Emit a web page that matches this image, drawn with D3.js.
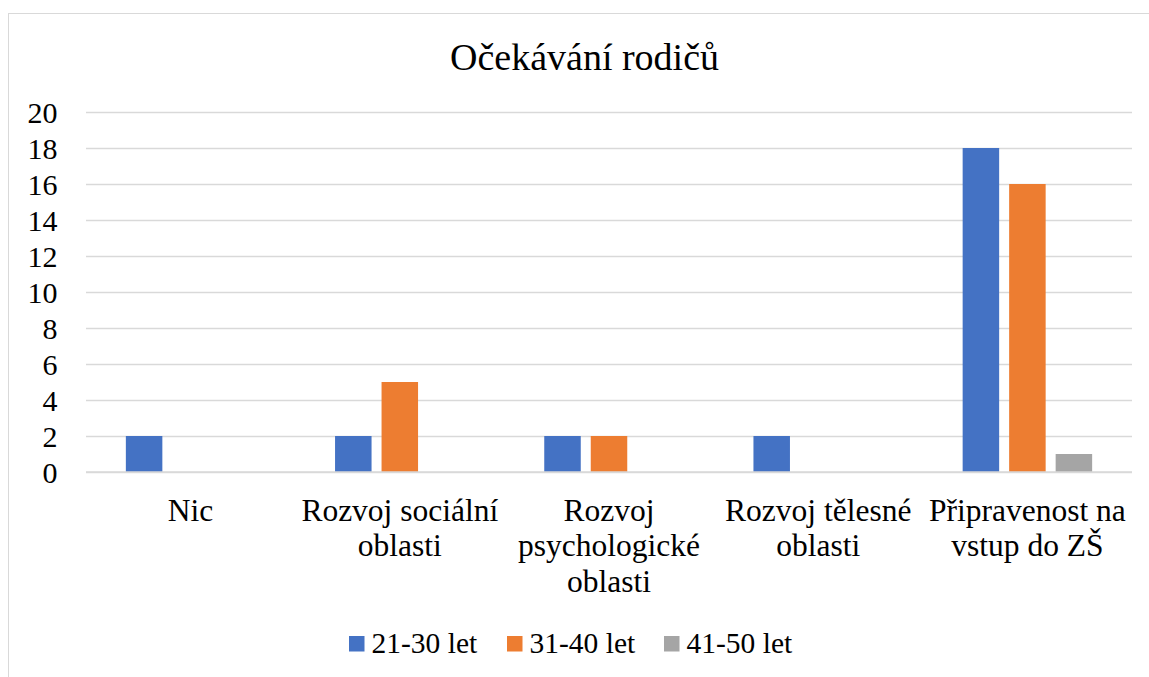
<!DOCTYPE html>
<html>
<head>
<meta charset="utf-8">
<script src="https://cdn.jsdelivr.net/npm/d3@7"></script>
<style>
html,body{margin:0;padding:0;background:#fff;}
svg{display:block;}
</style>
</head>
<body>
<svg id="chart" width="1149" height="677"></svg>
<script>
const title = "Očekávání rodičů";
const categories = ["Nic", "Rozvoj sociální oblasti", "Rozvoj psychologické oblasti", "Rozvoj tělesné oblasti", "Připravenost na vstup do ZŠ"];
const seriesNames = ["21-30 let", "31-40 let", "41-50 let"];
const values2130 = [2, 2, 2, 2, 18];
const values3140 = [0, 5, 2, 0, 16];
const values4150 = [0, 0, 0, 0, 1];
const yTicks = [0, 2, 4, 6, 8, 10, 12, 14, 16, 18, 20];
const colors = ["#4472c4", "#ed7d31", "#a5a5a5"];

const seriesValues = [values2130, values3140, values4150];
const FONT = "Liberation Serif";
const svg = d3.select("#chart");

// outer chart border
svg.append("rect").attr("x", 8.5).attr("y", 13.5).attr("width", 1200).attr("height", 700)
  .attr("fill", "#fff").attr("stroke", "#d9d9d9").attr("stroke-width", 1);

const plot = {left: 86, right: 1132, top: 112, bottom: 472};

const y = d3.scaleLinear().domain([0, 20]).range([plot.bottom, plot.top]);
const x0 = d3.scaleBand().domain(categories).range([plot.left, plot.right]).paddingInner(0).paddingOuter(0);
const x1 = d3.scaleBand().domain(seriesNames).range([0, x0.bandwidth()])
  .paddingInner(0.215).paddingOuter(0.857);

// gridlines + y tick labels
const yAxis = d3.axisLeft(y).tickValues(yTicks).tickSize(-(plot.right - plot.left)).tickPadding(28.5);
const gy = svg.append("g").attr("transform", `translate(${plot.left},0)`).call(yAxis)
  .attr("font-family", FONT).attr("font-size", 30);
gy.select(".domain").remove();
gy.selectAll(".tick line").attr("stroke", "#d9d9d9").attr("stroke-width", 1.3);
gy.selectAll(".tick text").attr("fill", "#000").attr("dy", "0.35em");

// bars
const data = [];
categories.forEach((c, i) => {
  seriesNames.forEach((s, j) => {
    data.push({cat: c, series: s, value: seriesValues[j][i], color: colors[j]});
  });
});
svg.append("g").selectAll("rect").data(data.filter(d => d.value > 0)).join("rect")
  .attr("x", d => x0(d.cat) + x1(d.series))
  .attr("y", d => y(d.value))
  .attr("width", x1.bandwidth())
  .attr("height", d => y(0) - y(d.value))
  .attr("fill", d => d.color);

// x axis baseline
svg.append("line").attr("x1", plot.left).attr("x2", plot.right)
  .attr("y1", y(0)).attr("y2", y(0)).attr("stroke", "#d9d9d9").attr("stroke-width", 1.3);

// category labels with word wrap
const xAxis = d3.axisBottom(x0).tickSize(0).tickFormat("");
const gx = svg.append("g").attr("transform", `translate(0,${plot.bottom})`).call(xAxis)
  .attr("font-family", FONT).attr("font-size", 31.5);
gx.select(".domain").remove();
const maxW = x0.bandwidth() - 4;
gx.selectAll(".tick").each(function(d) {
  const t = d3.select(this).append("text")
    .attr("text-anchor", "middle").attr("fill", "#000");
  const words = d.split(" ");
  let lines = [], cur = "";
  const probe = t.append("tspan");
  words.forEach(w => {
    const test = cur ? cur + " " + w : w;
    probe.text(test);
    if (probe.node().getComputedTextLength() > maxW && cur) { lines.push(cur); cur = w; }
    else cur = test;
  });
  if (cur) lines.push(cur);
  probe.remove();
  lines.forEach((ln, i) => {
    t.append("tspan").attr("x", 0).attr("y", 48.5 + i * 35.5).text(ln);
  });
});

// title
svg.append("text").attr("x", 584.5).attr("y", 69.5).attr("text-anchor", "middle")
  .attr("font-size", 38).attr("fill", "#000").attr("font-family", FONT).text(title);

// legend
const legendX = [349, 507, 664];
const lg = svg.append("g").attr("font-family", FONT).attr("font-size", 29.5);
seriesNames.forEach((s, j) => {
  lg.append("rect").attr("x", legendX[j]).attr("y", 636).attr("width", 15.5).attr("height", 15.5).attr("fill", colors[j]);
  lg.append("text").attr("x", legendX[j] + 22.5).attr("y", 653).attr("fill", "#000").text(s);
});
</script>
</body>
</html>
